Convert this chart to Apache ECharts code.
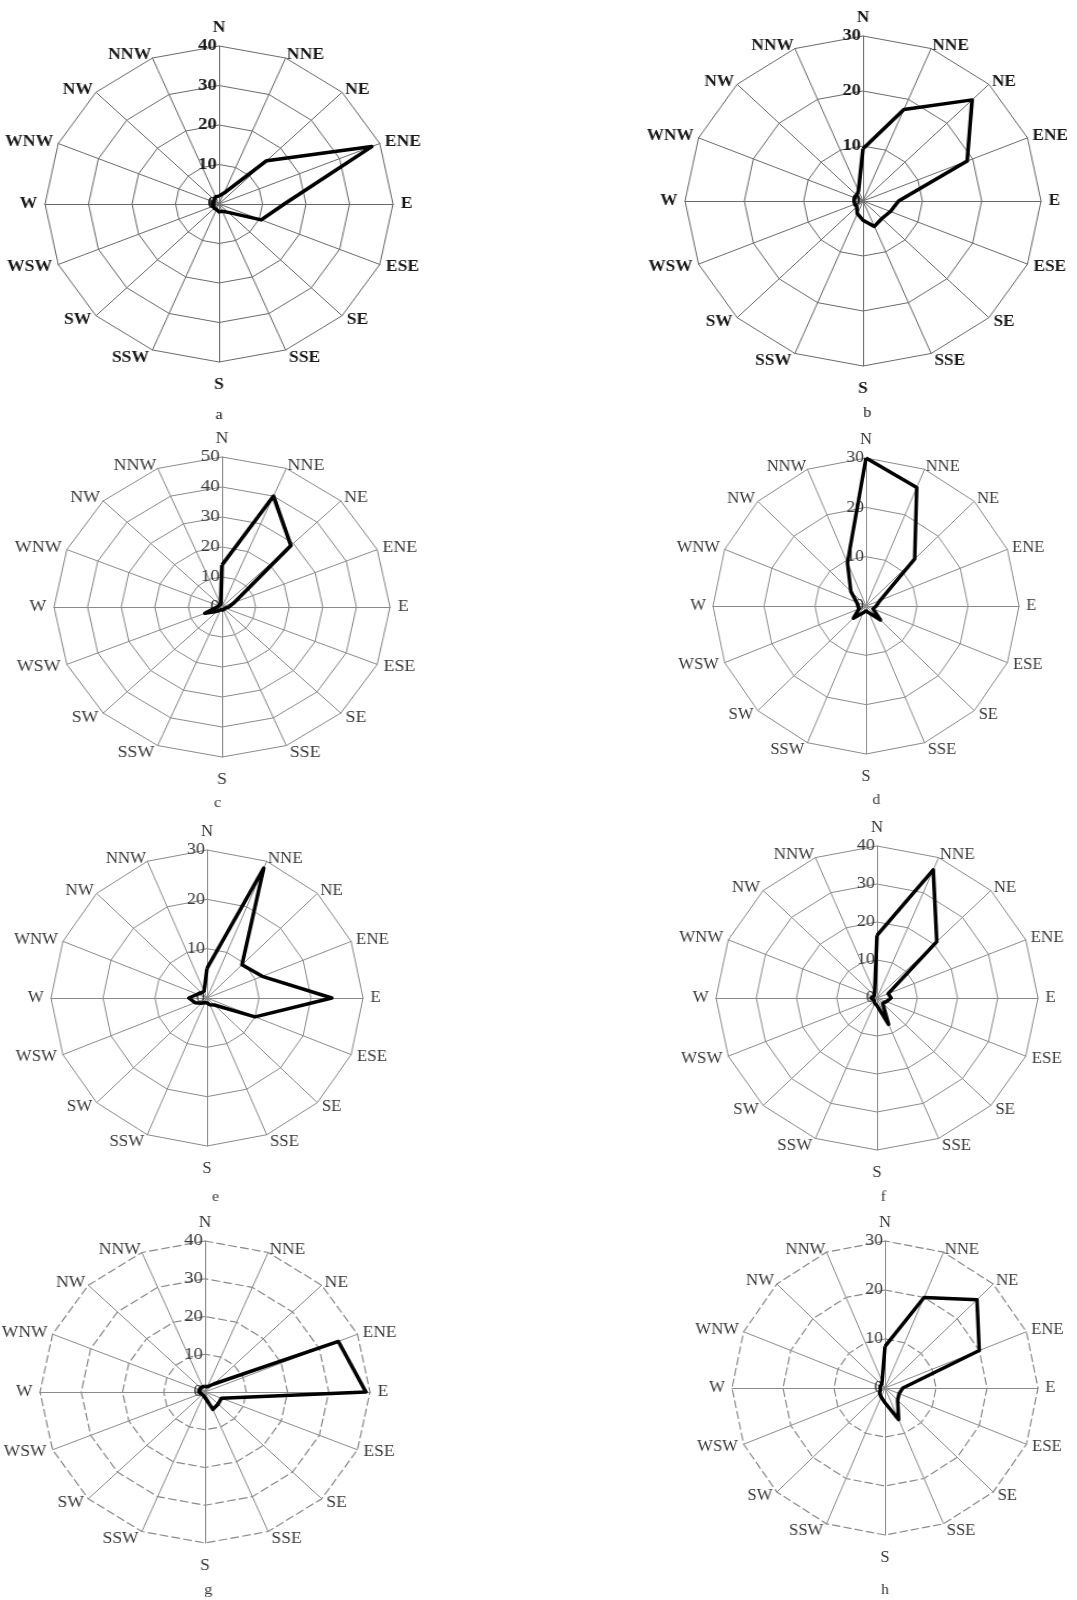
<!DOCTYPE html>
<html>
<head>
<meta charset="utf-8">
<script src="https://cdn.jsdelivr.net/npm/echarts@6/dist/echarts.min.js"></script>
<style>
  html, body { margin: 0; padding: 0; background: #fff; }
  #page { position: relative; width: 1077px; height: 1600px; overflow: hidden; background: #fff; }
  .rose { position: absolute; width: 400px; height: 440px; }
</style>
</head>
<body>
<div id="page"></div>
<script>
// Sixteen compass sectors, listed clockwise from north
const directions = ['N', 'NNE', 'NE', 'ENE', 'E', 'ESE', 'SE', 'SSE', 'S', 'SSW', 'SW', 'WSW', 'W', 'WNW', 'NW', 'NNW'];

// Wind direction frequency (%) per sector, same order as `directions`
const roseA = [2, 3, 15.5, 38, 15, 10.5, 3, 2, 2, 1.5, 1.5, 1.5, 1.5, 1.5, 1.5, 2];
const roseB = [9.5, 18, 26, 19, 6, 5, 4.5, 5, 3.5, 2.5, 1.5, 1.5, 1.5, 1.5, 1.5, 2];
const roseC = [14, 40, 29, 4, 2, 1, 1, 1, 1, 1, 2, 5.5, 1.5, 1, 1, 1];
const roseD = [30, 26, 13.5, 3, 2, 1.5, 4, 1.5, 1, 1.5, 3.5, 1.5, 1.5, 2, 4.2, 9.5];
const roseE = [6, 28.5, 9.5, 11.5, 24, 10, 2, 1.5, 1, 1, 1.5, 2.5, 3.5, 2, 1.5, 1.5];
const roseF = [16.5, 36.5, 21, 3, 3.5, 2.5, 2, 7.5, 2, 1.5, 1, 1, 1.5, 1, 1, 1.5];
const roseG = [1.5, 1.5, 3, 35, 39, 4.3, 4.5, 5, 1.5, 1, 1, 1, 1.5, 1.5, 1.5, 1.5];
const roseH = [8.5, 20, 25.5, 20, 3.5, 3, 3.5, 7, 3, 2, 1.5, 1, 1, 1, 1, 1.5];

// Outer ring value of each rose and the ring step
const ringMax = [40, 30, 50, 30, 30, 40, 40, 30];
const ringStep = 10;

// Sub-figure letters
const captions = ['a', 'b', 'c', 'd', 'e', 'f', 'g', 'h'];

const roses = [roseA, roseB, roseC, roseD, roseE, roseF, roseG, roseH];

// Distance between each spoke end and its sector name (px), compass order
const nameGaps = [10, 3, 4, 5, 7, 6, 6, 8, 15, 8, 6, 6, 7, 5, 4, 3];

// Panel placement: centre on the page, vertical radius, horizontal radius,
// caption offset below the centre, and grid style
const panels = [
  { cx: 218.5, cy: 204,  rv: 158, rh: 174, capY: 211, capX: 0,  dark: true,  dashed: false },
  { cx: 862.7, cy: 201,  rv: 165, rh: 178, capY: 212, capX: 4,  dark: true,  dashed: false },
  { cx: 221.7, cy: 607,  rv: 150, rh: 168, capY: 196, capX: -4, dark: false, dashed: false },
  { cx: 865.7, cy: 606,  rv: 148, rh: 153, capY: 194, capX: 10, dark: false, dashed: false },
  { cx: 207.3, cy: 998,  rv: 148, rh: 156, capY: 199, capX: 8,  dark: false, dashed: false },
  { cx: 876.7, cy: 998,  rv: 152, rh: 161, capY: 199, capX: 6,  dark: false, dashed: false },
  { cx: 205,   cy: 1392, rv: 151, rh: 165, capY: 198, capX: 3,  dark: false, dashed: true },
  { cx: 885,   cy: 1388, rv: 147, rh: 153, capY: 202, capX: 0,  dark: false, dashed: true }
];

// ECharts lays radar indicators out counter-clockwise from the top,
// so north stays first and the remaining sectors are reversed.
const order = [0].concat(directions.slice(1).map((d, i) => directions.length - 1 - i));

const W = 400, H = 440;
const page = document.getElementById('page');

panels.forEach((p, idx) => {
  const el = document.createElement('div');
  el.className = 'rose';
  el.style.left = (p.cx - W / 2) + 'px';
  el.style.top = (p.cy - H / 2) + 'px';
  el.style.transformOrigin = '50% 50%';
  el.style.transform = 'scaleX(' + (p.rh / p.rv).toFixed(4) + ')';
  page.appendChild(el);

  const max = ringMax[idx];
  const textColor = p.dark ? '#1a1a1a' : '#3a3a3a';
  const gridColor = p.dark ? '#6a6a6a' : '#8a8a8a';
  const font = '"Liberation Serif", "DejaVu Serif", serif';

  const indicator = order.map((k, i) => {
    const item = { name: directions[k], min: 0, max: max, nameGap: nameGaps[k] };
    if (i === 0) item.axisLabel = { show: true };
    return item;
  });

  const chart = echarts.init(el, null, { renderer: 'canvas' });
  chart.setOption({
    animation: false,
    backgroundColor: 'transparent',
    graphic: [{
      type: 'text',
      x: W / 2 + p.capX,
      y: H / 2 + p.capY,
      style: {
        text: captions[idx],
        fill: textColor,
        font: '15px ' + font,
        align: 'center',
        verticalAlign: 'middle'
      }
    }],
    radar: {
      center: ['50%', '50%'],
      radius: p.rv,
      startAngle: 90,
      shape: 'polygon',
      splitNumber: max / ringStep,
      indicator: indicator,
      nameGap: 6,
      axisName: {
        color: textColor,
        fontFamily: font,
        fontSize: 16,
        fontWeight: p.dark ? 'bold' : 'normal'
      },
      axisLine: { lineStyle: { color: gridColor, width: 1 } },
      axisTick: { show: false },
      splitLine: {
        lineStyle: {
          color: gridColor,
          width: p.dashed ? 1.2 : 1,
          type: p.dashed ? [8, 3] : 'solid'
        }
      },
      splitArea: { show: false },
      axisLabel: {
        show: false,
        color: textColor,
        fontFamily: font,
        fontSize: 17,
        fontWeight: p.dark ? 'bold' : 'normal',
        margin: 2
      }
    },
    series: [{
      type: 'radar',
      symbol: 'none',
      silent: true,
      lineStyle: { color: '#000', width: 3.5 },
      data: [{ value: order.map(k => roses[idx][k]) }]
    }]
  });
});
</script>
</body>
</html>
